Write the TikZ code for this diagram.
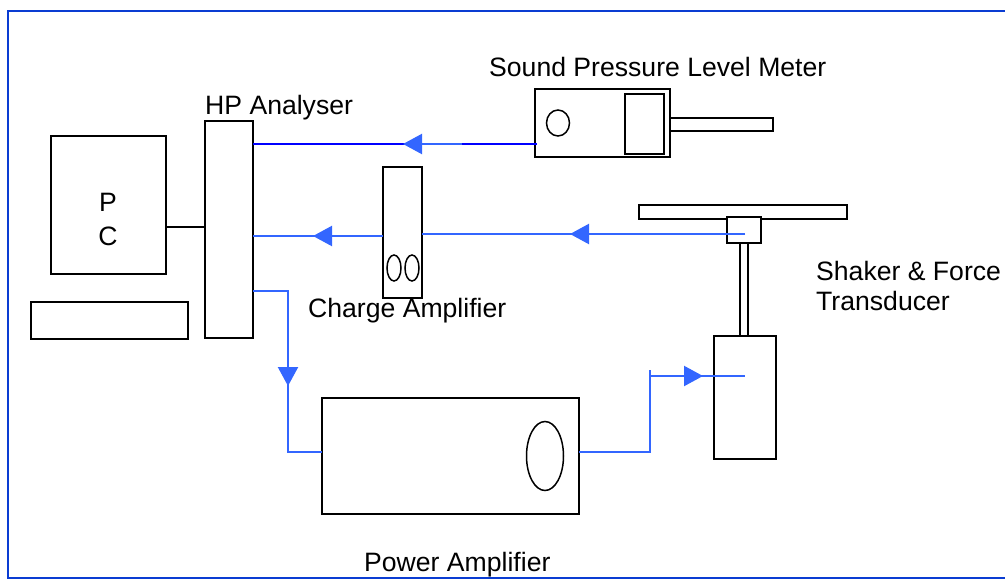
\documentclass[tikz,border=0pt]{standalone}
\usepackage{fontspec}
\setmainfont{Liberation Sans}
\usetikzlibrary{arrows.meta,positioning,calc,shapes.geometric}
\definecolor{linkblue}{RGB}{51,102,255}
\definecolor{darkblue}{RGB}{0,0,255}
\definecolor{framecol}{RGB}{10,60,210}
\tikzset{
  boxnode/.style={draw=black,line width=1.8pt,fill=white,inner sep=0pt,outer sep=0pt,rectangle},
  ovalnode/.style={draw=black,line width=1.5pt,inner sep=0pt,outer sep=0pt,ellipse},
  lbl/.style={font=\fontsize{26.6}{26.6}\selectfont,anchor=base west,inner sep=0pt,text=black},
  link/.style={draw=linkblue,line width=1.7pt},
  darklink/.style={draw=darkblue,line width=1.9pt},
  flow/.style={draw=linkblue,line width=2.2pt,-{Triangle[length=19pt,width=20pt,color=linkblue]}},
}
\newcommand{\boxat}[6][]{\node[boxnode,minimum width=#4pt-#3pt,minimum height=#6pt-#5pt,anchor=north west,#1] (#2) at (#3,#5) {};}
\begin{document}
\begin{tikzpicture}[x=1pt,y=-1pt]
\useasboundingbox (0,0) rectangle (1005,579);
\clip (0,0) rectangle (1005,579);
\node[draw=framecol,line width=2pt,inner sep=0pt,outer sep=0pt,minimum width=1020pt,minimum height=567pt,anchor=north west] (frame) at (8,11) {};

\boxat{pc}{51}{166}{136}{274}
\boxat{keyboard}{31}{188}{302}{339}
\boxat{hp}{205}{253}{121}{338}
\boxat{mic}{669}{773}{118}{131}
\boxat{spl}{535}{670}{89}{157}
\boxat{display}{625}{664}{94}{154}
\node[ovalnode,minimum width=23pt,minimum height=26pt] (splknob) at (558,123) {};
\boxat{charge}{383}{422}{167}{298}
\node[ovalnode,minimum width=14pt,minimum height=26pt] (knoba) at (394,268) {};
\node[ovalnode,minimum width=14pt,minimum height=26pt] (knobb) at (412,268) {};
\boxat{plate}{639}{847}{205}{219}
\boxat{rod}{740}{748}{243}{337}
\boxat{force}{727}{761}{217}{243}
\boxat{shaker}{714}{776}{336}{459}
\boxat{power}{322}{579}{398}{514}
\node[ovalnode,minimum width=37pt,minimum height=69pt] (powerknob) at (545,456) {};

\coordinate (splin) at (537,144);
\coordinate (a1s) at (462,144);
\coordinate (a1e) at (403,144);
\coordinate (forcein) at (745,234);
\coordinate (a2s) at (620,234);
\coordinate (a2e) at (570,234);
\coordinate (a3s) at (360,236);
\coordinate (a3e) at (313,236);
\coordinate (a4s) at (288,335);
\coordinate (a4e) at (288,386);
\coordinate (shakerin) at (745,376);
\coordinate (a5s) at (660,376);
\coordinate (a5e) at (703,376);
\coordinate (stub) at (650,370);

\draw[black,line width=1.6pt] (pc.east |- 0,227) -- (hp.west |- 0,227);
\draw[darklink] (splin) -- (hp.east |- splin);
\draw[flow] (a1s) -- (a1e);
\draw[link] (forcein) -- (charge.east |- forcein);
\draw[flow] (a2s) -- (a2e);
\draw[link] (charge.west |- a3s) -- (hp.east |- a3s);
\draw[flow] (a3s) -- (a3e);
\draw[link] (hp.east |- 0,291) -- (288,291) -- (288,452) -- (power.west |- 0,452);
\draw[flow] (a4s) -- (a4e);
\draw[link] (power.east |- 0,452) -- (650,452) -- (stub);
\draw[link] (stub |- shakerin) -- (shakerin);
\draw[flow] (a5s) -- (a5e);

\node[lbl] (t1) at (489,76) {Sound Pressure Level Meter};
\node[lbl] (t2) at (205,114) {HP Analyser};
\node[lbl] (t3) at (308,317) {Charge Amplifier};
\node[lbl] (t4) at (816,280) {Shaker \& Force};
\node[lbl] (t5) at (816,310) {Transducer};
\node[lbl] (t6) at (364,571) {Power Amplifier};
\node[lbl,anchor=base] (t7) at (108,211) {P};
\node[lbl,anchor=base] (t8) at (108,245) {C};
\end{tikzpicture}
\end{document}
